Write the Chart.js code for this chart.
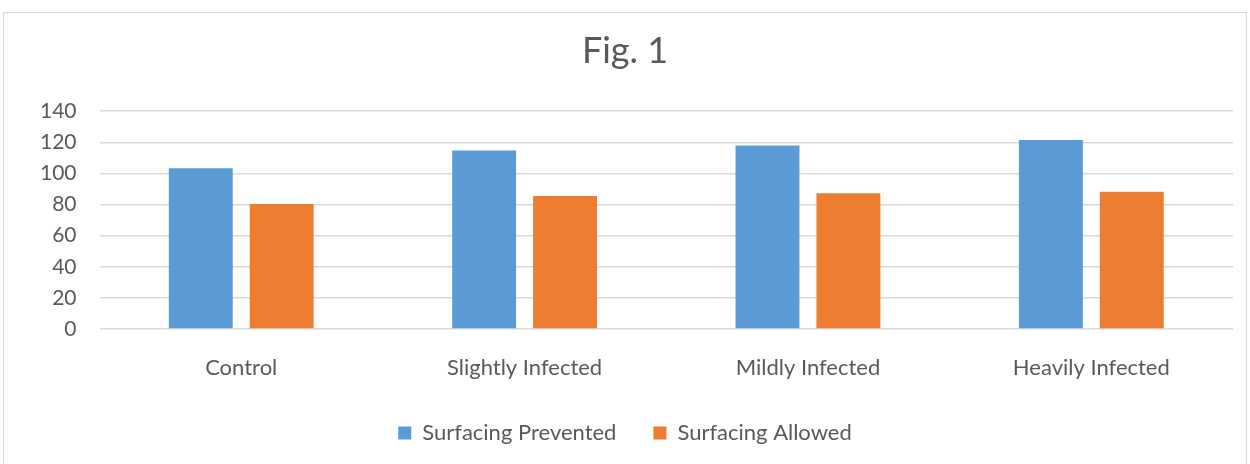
<!DOCTYPE html>
<html lang="en">
<head>
  <meta charset="UTF-8" />
  <title>Fig. 1</title>
  <script src="https://cdn.jsdelivr.net/npm/chart.js"></script>
  <style>
    body {
      margin: 0;
      background: #fff;
    }
    .chart-box {
      position: absolute;
      left: 3px;
      top: 12px;
      width: 1244px;
      height: 460px;
      border: 1px solid #d9d9d9;
      box-sizing: border-box;
    }
  </style>
</head>
<body>
  <div class="chart-box"><canvas id="chart"></canvas></div>

  <script>
    const categories = ["Control", "Slightly Infected", "Mildly Infected", "Heavily Infected"];
    const surfacingPrevented = [103.3, 114.7, 117.9, 121.5];
    const surfacingAllowed = [80.4, 85.5, 87.2, 88.3];

    const font = "Lato, 'Open Sans', sans-serif";
    const grey = "#595959";

    const canvas = document.getElementById("chart");
    canvas.width = 1242;
    canvas.height = 458;

    new Chart(canvas, {
      type: "bar",
      data: {
        labels: categories,
        datasets: [
          {
            label: "Surfacing Prevented",
            data: surfacingPrevented,
            backgroundColor: "#5b9bd5",
            categoryPercentage: 0.571,
            barPercentage: 0.79
          },
          {
            label: "Surfacing Allowed",
            data: surfacingAllowed,
            backgroundColor: "#ed7d31",
            categoryPercentage: 0.571,
            barPercentage: 0.79
          }
        ]
      },
      options: {
        responsive: false,
        animation: false,
        layout: { padding: { left: 13, right: 13, top: 0, bottom: 17 } },
        plugins: {
          title: {
            display: true,
            text: "Fig. 1",
            color: grey,
            font: { family: font, size: 36, weight: "normal" },
            padding: { top: 17, bottom: 38 }
          },
          legend: {
            position: "bottom",
            labels: {
              color: grey,
              font: { family: font, size: 22 },
              boxWidth: 13,
              boxHeight: 13,
              padding: 37
            }
          },
          tooltip: { enabled: false }
        },
        scales: {
          x: {
            grid: { display: false, drawTicks: false },
            border: { display: false },
            ticks: { color: grey, font: { family: font, size: 22 }, padding: 26 },
            afterFit: (scale) => { scale.height = 56; }
          },
          y: {
            min: 0,
            max: 140,
            ticks: { stepSize: 20, color: grey, font: { family: font, size: 21 }, padding: 23 },
            grid: { color: "#d9d9d9", lineWidth: 1.5, drawTicks: false },
            border: { display: false }
          }
        }
      }
    });
  </script>
</body>
</html>
